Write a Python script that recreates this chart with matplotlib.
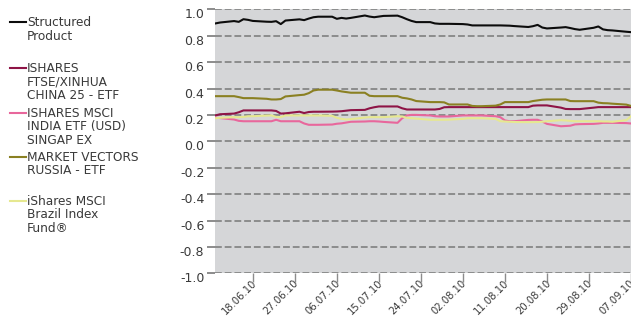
import matplotlib
matplotlib.use("Agg")
import matplotlib.pyplot as plt
import matplotlib.dates as mdates
import numpy as np
import pandas as pd
from matplotlib.lines import Line2D
from matplotlib.transforms import offset_copy

# trading days 10.06.2010 - 07.09.2010
dates = pd.bdate_range("2010-06-10", "2010-09-07")

structured = [0.893, 0.900, 0.911, 0.905, 0.925, 0.920, 0.912, 0.906, 0.905, 0.910,
              0.888, 0.915, 0.924, 0.918, 0.930, 0.940, 0.944, 0.944, 0.928, 0.935,
              0.930, 0.935, 0.953, 0.945, 0.940, 0.945, 0.950, 0.952, 0.940, 0.925,
              0.912, 0.903, 0.903, 0.893, 0.890, 0.890, 0.890, 0.888, 0.885, 0.878,
              0.878, 0.878, 0.878, 0.878, 0.877, 0.876, 0.873, 0.866, 0.872, 0.882,
              0.862, 0.855, 0.862, 0.865, 0.858, 0.850, 0.845, 0.860, 0.870, 0.848,
              0.842, 0.840, 0.830, 0.827]
china = [0.196, 0.205, 0.210, 0.220, 0.234, 0.234, 0.234, 0.234, 0.234, 0.230,
         0.210, 0.212, 0.224, 0.214, 0.222, 0.224, 0.224, 0.225, 0.226, 0.228,
         0.232, 0.236, 0.238, 0.250, 0.258, 0.264, 0.264, 0.264, 0.250, 0.241,
         0.241, 0.241, 0.241, 0.241, 0.245, 0.258, 0.259, 0.259, 0.259, 0.259,
         0.259, 0.259, 0.259, 0.259, 0.259, 0.259, 0.259, 0.259, 0.270, 0.272,
         0.272, 0.272, 0.255, 0.245, 0.244, 0.244, 0.244, 0.255, 0.259, 0.259,
         0.259, 0.259, 0.259, 0.259]
india = [0.180, 0.176, 0.165, 0.155, 0.152, 0.152, 0.152, 0.152, 0.152, 0.163,
         0.152, 0.152, 0.152, 0.135, 0.125, 0.125, 0.125, 0.127, 0.133, 0.136,
         0.142, 0.148, 0.150, 0.152, 0.152, 0.150, 0.147, 0.140, 0.175, 0.196,
         0.200, 0.200, 0.196, 0.190, 0.188, 0.188, 0.188, 0.196, 0.196, 0.196,
         0.196, 0.196, 0.190, 0.183, 0.158, 0.152, 0.152, 0.162, 0.163, 0.163,
         0.150, 0.132, 0.114, 0.116, 0.118, 0.128, 0.130, 0.132, 0.135, 0.140,
         0.140, 0.140, 0.138, 0.135]
russia = [0.342, 0.342, 0.342, 0.335, 0.327, 0.327, 0.327, 0.322, 0.317, 0.317,
          0.320, 0.340, 0.350, 0.353, 0.365, 0.385, 0.391, 0.391, 0.385, 0.378,
          0.373, 0.368, 0.368, 0.345, 0.342, 0.342, 0.342, 0.342, 0.330, 0.325,
          0.317, 0.305, 0.297, 0.297, 0.297, 0.295, 0.279, 0.279, 0.279, 0.268,
          0.266, 0.266, 0.270, 0.279, 0.297, 0.297, 0.297, 0.297, 0.305, 0.310,
          0.315, 0.317, 0.317, 0.317, 0.305, 0.304, 0.304, 0.304, 0.293, 0.289,
          0.288, 0.285, 0.278, 0.268]
brazil = [0.175, 0.178, 0.183, 0.183, 0.185, 0.190, 0.190, 0.195, 0.196, 0.185,
          0.183, 0.196, 0.196, 0.196, 0.196, 0.196, 0.196, 0.193, 0.178, 0.170,
          0.165, 0.168, 0.180, 0.183, 0.183, 0.183, 0.183, 0.190, 0.188, 0.178,
          0.175, 0.172, 0.163, 0.163, 0.163, 0.163, 0.164, 0.170, 0.175, 0.175,
          0.175, 0.175, 0.170, 0.152, 0.150, 0.148, 0.146, 0.145, 0.145, 0.146,
          0.148, 0.152, 0.160, 0.158, 0.155, 0.152, 0.152, 0.152, 0.152, 0.150,
          0.150, 0.148, 0.160, 0.190]

names = ["Structured\nProduct",
         "ISHARES\nFTSE/XINHUA\nCHINA 25 - ETF",
         "ISHARES MSCI\nINDIA ETF (USD)\nSINGAP EX",
         "MARKET VECTORS\nRUSSIA - ETF",
         "iShares MSCI\nBrazil Index\nFund®"]
colors = ["#0c0c0c", "#8e1446", "#e8679c", "#8a8022", "#e6e890"]
series = [structured, china, india, russia, brazil]

tick_dates = pd.date_range("2010-06-18", "2010-09-07", freq="9D")
yticks = np.round(np.arange(-1.0, 1.01, 0.2), 1)

text_col = "#3a3a3a"
grid_col = "#8c8c8c"

fig = plt.figure(figsize=(6.31, 3.21), dpi=100)
ax = fig.add_axes([0.3414, 0.1486, 0.6586, 0.8224])
ax.set_facecolor("#d5d6d8")
for s in ax.spines.values():
    s.set_visible(False)

for y in yticks:
    ax.axhline(y, color=grid_col, linestyle=(0, (3.5, 1.5)), linewidth=1.4, zorder=1)

for vals, c in zip(series, colors):
    ax.plot(dates, vals, color=c, linewidth=1.5, zorder=3)

ax.set_xlim(dates[0], dates[-1])
ax.set_ylim(-1.0, 1.0)
ax.set_yticks(yticks)
ax.set_yticklabels([f"{abs(v):.1f}" if v == 0 else f"{v:.1f}" for v in yticks],
                   fontsize=9, color=text_col)
ax.tick_params(axis="y", length=6, width=1.4, color=grid_col, pad=2)
for lab in ax.get_yticklabels():
    lab.set_transform(offset_copy(lab.get_transform(), fig=fig, y=-4, units="dots"))

ax.set_xticks(tick_dates)
ax.xaxis.set_major_formatter(mdates.DateFormatter("%d.%m.%y"))
ax.tick_params(axis="x", direction="out", length=6.5, width=1, color=grid_col, pad=0,
               labelsize=7.2, labelcolor=text_col)
for lab in ax.get_xticklabels():
    lab.set_rotation(45)
    lab.set_ha("right")
    lab.set_va("center")
    lab.set_rotation_mode("anchor")
    lab.set_transform(offset_copy(lab.get_transform(), fig=fig, x=2, y=1, units="dots"))

# hand-made legend on the left
legend_y = [22, 68, 113, 157, 201]
for name, c, yy in zip(names, colors, legend_y):
    yf = 1 - yy / 321
    fig.add_artist(Line2D([10 / 631, 26 / 631], [yf, yf], color=c, linewidth=1.5))
    fig.text(27 / 631, yf, name, fontsize=8.7, color=text_col, va="top",
             ha="left", linespacing=1.05,
             transform=offset_copy(fig.transFigure, fig=fig, y=6, units="dots"))

fig.savefig("out.png", dpi=100)
